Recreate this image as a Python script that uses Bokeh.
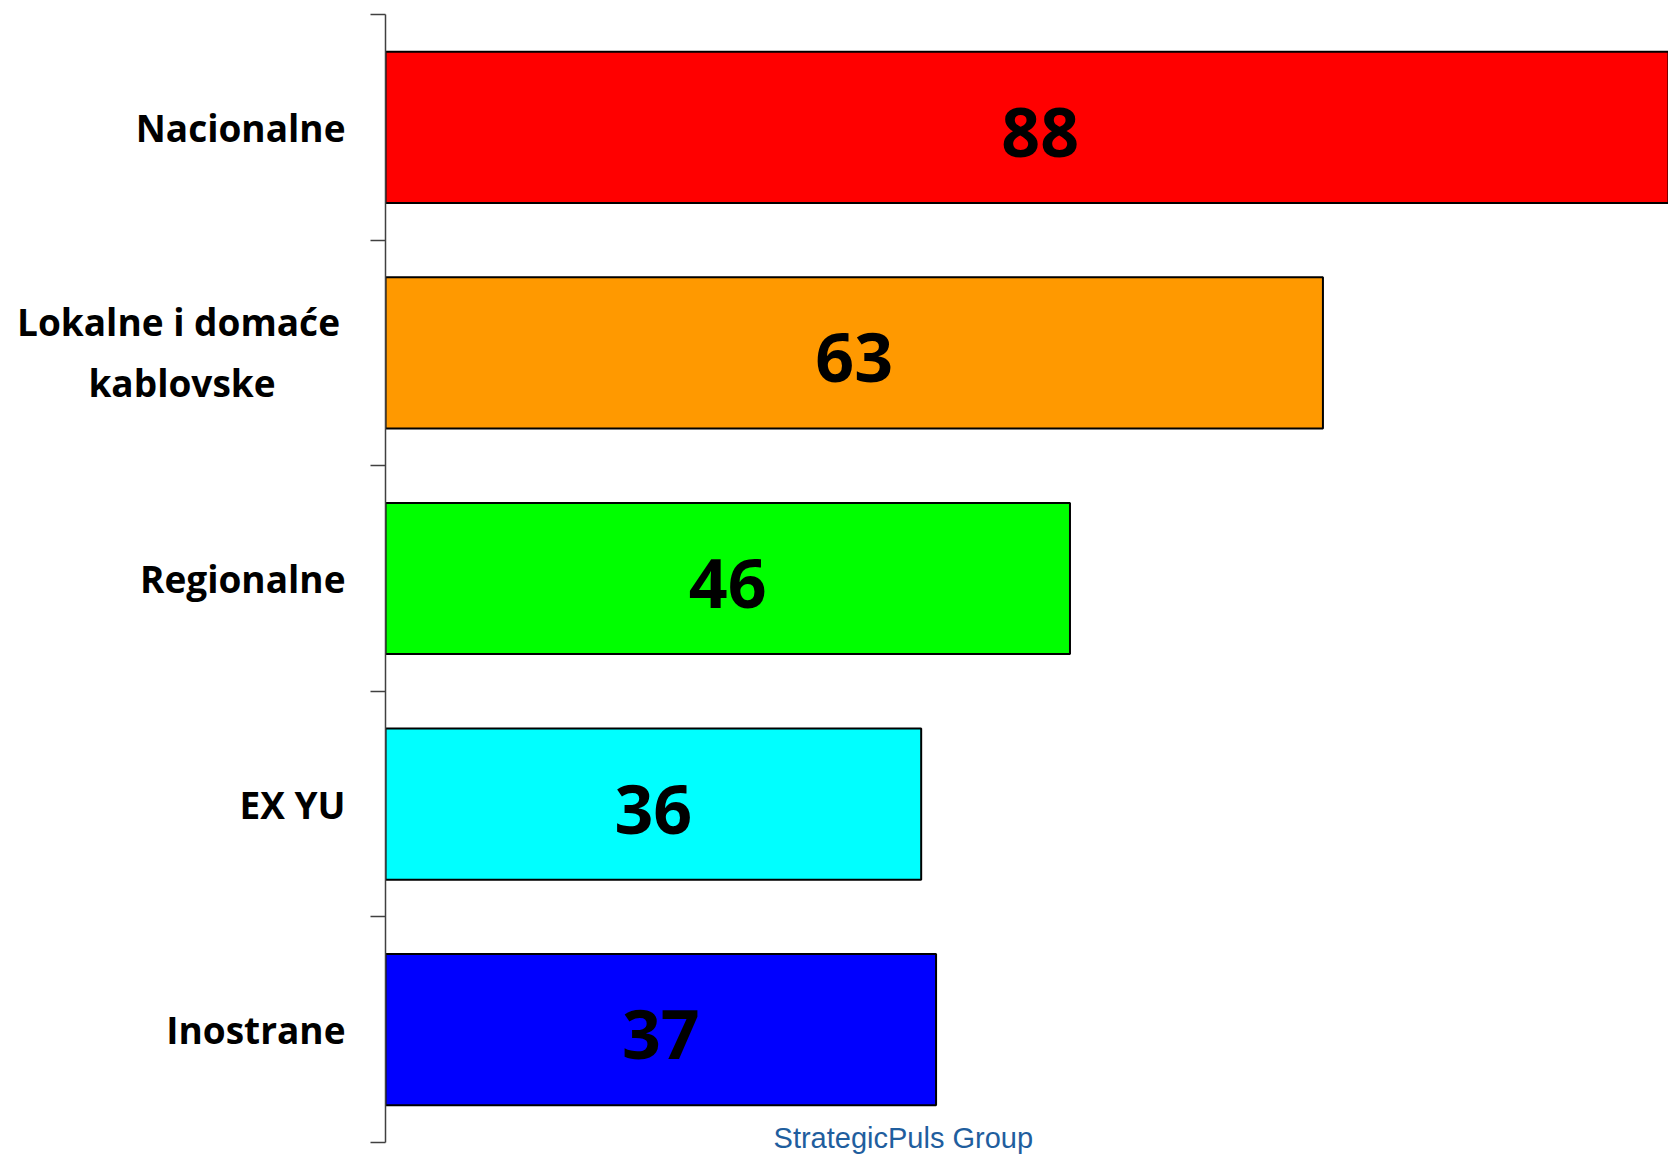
from bokeh.plotting import figure
from bokeh.layouts import row
from bokeh.models import Range1d, LinearAxis, FixedTicker, ColumnDataSource
from bokeh.core.properties import value
from bokeh.embed import file_html
from bokeh.resources import INLINE

# ---- data ----
categories = ["Nacionalne", "Lokalne i domaće\nkablovske", "Regionalne", "EX YU", "Inostrane"]
values = [88, 63, 46, 36, 37]
colors = ["#ff0000", "#ff9900", "#00ff00", "#00ffff", "#0000ff"]
source_text = "StrategicPuls Group"

n = len(categories)
ys = [n - i - 0.5 for i in range(n)]
mids = [v / 2 for v in values]
labels = [str(v) for v in values]

W, H = 1668, 1157
LW = 365           # width of the label panel
RW = W - LW        # width of the bar panel
TOP = 14
PX_PER_UNIT = 225.6
y_range = Range1d(-15 / PX_PER_UNIT, n)

# ---- label panel ----
pl = figure(width=LW, height=H, output_backend="svg", toolbar_location=None,
            x_range=Range1d(0, LW), y_range=y_range,
            x_axis_location=None, y_axis_location=None,
            min_border_left=0, min_border_right=0, min_border_top=TOP, min_border_bottom=0)
pl.outline_line_color = None
pl.xgrid.visible = False
pl.ygrid.visible = False

lx, ly, lt, la, lyo = [], [], [], [], []
for cat, y in zip(categories, ys):
    lines = cat.split("\n")
    if len(lines) == 1:
        lx.append(345); ly.append(y); lt.append(lines[0]); la.append("right"); lyo.append(0)
    else:
        for line, xo, yo in zip(lines, [178, 181.5], [-31, 30]):
            lx.append(xo); ly.append(y); lt.append(line); la.append("center"); lyo.append(yo)
lsrc = ColumnDataSource(dict(x=lx, y=ly, text=lt, align=la, yo=lyo))
pl.text(x="x", y="y", text="text", text_align="align", y_offset="yo", source=lsrc,
        text_baseline="middle", text_font=value("Open Sans"), text_font_style="bold",
        text_font_size="37px", text_color="black")

# ---- bar panel ----
p = figure(width=RW, height=H, output_backend="svg", toolbar_location=None,
           x_range=Range1d(0, (RW - 20) / 14.88), y_range=y_range,
           x_axis_location=None, y_axis_location=None,
           min_border_left=20, min_border_right=0, min_border_top=TOP, min_border_bottom=0)
p.outline_line_color = None
p.xgrid.visible = False
p.ygrid.visible = False

yaxis = LinearAxis(ticker=FixedTicker(ticks=[], minor_ticks=list(range(n + 1))))
yaxis.bounds = (0, n)
yaxis.major_tick_out = 0
yaxis.major_tick_in = 0
yaxis.minor_tick_out = 15
yaxis.minor_tick_in = 0
yaxis.axis_line_color = "#404040"
yaxis.axis_line_width = 1.5
yaxis.minor_tick_line_color = "#404040"
yaxis.minor_tick_line_width = 1.5
p.add_layout(yaxis, "left")

src = ColumnDataSource(dict(y=ys, right=values, color=colors, mid=mids, label=labels))
p.hbar(y="y", left=0, right="right", height=0.67, fill_color="color",
       line_color="black", line_width=2, source=src)
p.text(x="mid", y="y", text="label", source=src, text_align="center",
       text_baseline="middle", y_offset=5, text_font=value("Open Sans"),
       text_font_style="bold", text_font_size="68px", text_color="black")

p.text(x=[34.8], y=[0], text=[source_text], text_align="center", text_baseline="middle",
       y_offset=-5, text_font=value("Liberation Sans"), text_font_size="29px",
       text_color="#1f5e9e")

layout = row(pl, p)
open("out.html", "w").write(file_html(layout, INLINE))
